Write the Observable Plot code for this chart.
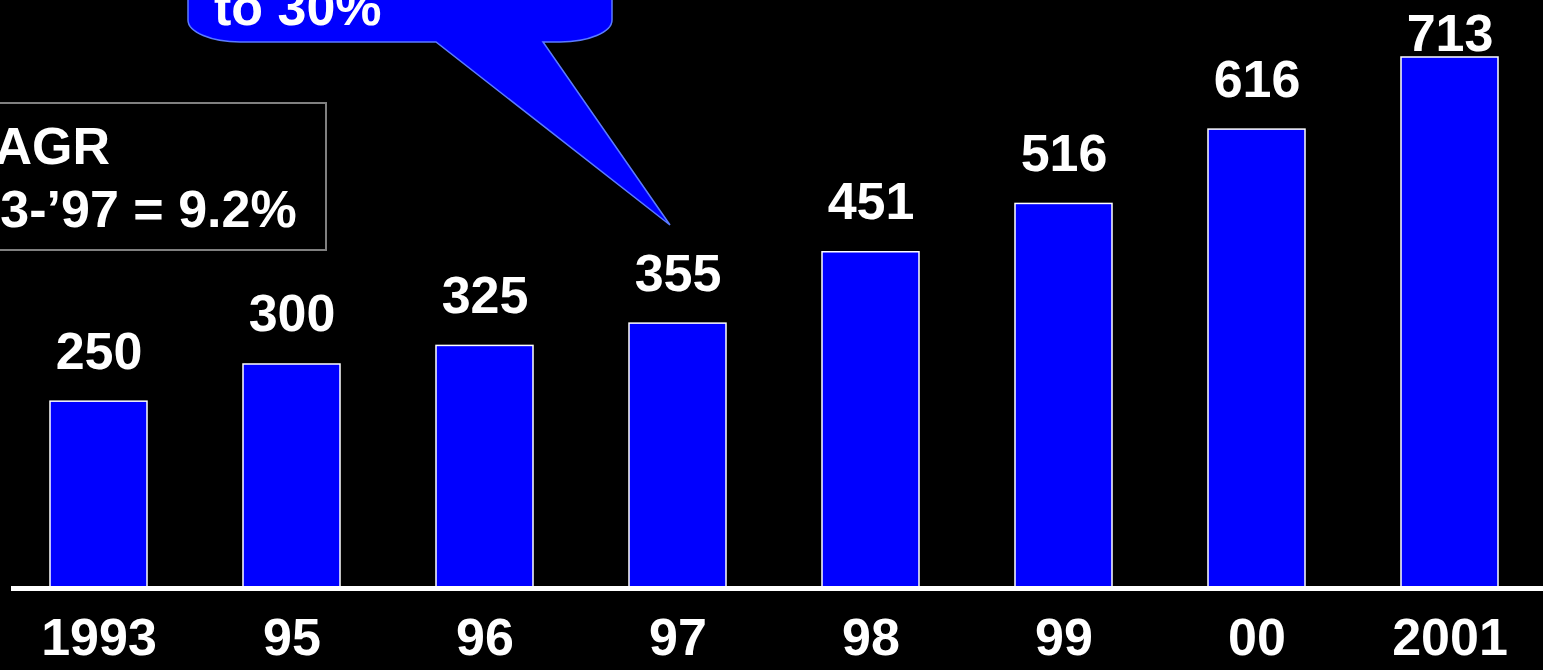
<!DOCTYPE html>
<html>
<head>
<meta charset="utf-8">
<script src="https://cdn.jsdelivr.net/npm/d3@7"></script>
<script src="https://cdn.jsdelivr.net/npm/@observablehq/plot@0.6"></script>
<style>
  html, body { margin: 0; padding: 0; background: #000; overflow: hidden; }
  #chart svg { display: block; }
</style>
</head>
<body>
<div id="chart"></div>
<script>
// ---- data ----
const years = ["1993", "95", "96", "97", "98", "99", "00", "2001"];
const values = [250, 300, 325, 355, 451, 516, 616, 713];
const cagrLines = ["CAGR", "\u201993-\u201997 = 9.2%"];
const calloutLines = ["to 30%"];

const data = years.map((y, i) => ({year: y, value: values[i]}));
const maxVal = d3.max(values);

const FONT = "'Liberation Sans', Arial, Helvetica, sans-serif";
const W = 1543, H = 670;

const plot = Plot.plot({
  width: W,
  height: H,
  marginLeft: 11,
  marginRight: 0,
  marginTop: 0,
  marginBottom: 83,
  style: {background: "#000", color: "#fff", fontFamily: FONT},
  x: {domain: years, range: [49.75, 1497.25], paddingInner: 0.5, paddingOuter: 0, label: null},
  y: {domain: [0, maxVal], range: [587, 57], axis: null},
  marks: [
    Plot.barY(data, {x: "year", y: "value", fill: "#0000ff", stroke: "#ffffff", strokeWidth: 1.5}),
    Plot.ruleY([0], {stroke: "#ffffff", strokeWidth: 5, dy: 1}),
    Plot.text(data.filter(d => d.value !== maxVal), {
      x: "year", y: "value", text: d => String(d.value), lineAnchor: "bottom", dy: -33,
      fill: "#fff", fontSize: 52, fontWeight: "bold"
    }),
    Plot.text(data.filter(d => d.value === maxVal), {
      x: "year", y: "value", text: d => String(d.value), lineAnchor: "bottom", dy: -7,
      fill: "#fff", fontSize: 52, fontWeight: "bold"
    }),
    Plot.axisX({tickSize: 0, tickPadding: 31, fontSize: 52, fontWeight: "bold", fill: "#fff", label: null})
  ]
});

document.getElementById("chart").appendChild(plot);

// ---- annotations ----
const svg = d3.select(plot);
const ann = svg.append("g")
  .attr("font-family", FONT)
  .attr("font-weight", "bold")
  .attr("text-anchor", "start");

// CAGR box (partly cut off at the left edge, as in the original slide)
ann.append("rect")
  .attr("x", -20).attr("y", 103).attr("width", 346).attr("height", 147)
  .attr("fill", "#000").attr("stroke", "#808080").attr("stroke-width", 2);
cagrLines.forEach((t, i) => {
  ann.append("text").attr("x", -43).attr("y", 164 + i * 63)
    .attr("text-anchor", "start")
    .attr("fill", "#fff").attr("font-size", 52).text(t);
});

// Callout bubble with tail pointing to the 1997 bar
const bx0 = 188, bx1 = 612, by1 = 42, rx = 52, ry = 22;
const path = [
  `M${bx0},-60`,
  `L${bx0},${by1 - ry}`,
  `A${rx},${ry} 0 0 0 ${bx0 + rx},${by1}`,
  `L436,${by1}`,
  `L670,225`,
  `L543,${by1}`,
  `L${bx1 - rx},${by1}`,
  `A${rx},${ry} 0 0 0 ${bx1},${by1 - ry}`,
  `L${bx1},-60`,
  "Z"
].join(" ");
ann.append("path").attr("d", path)
  .attr("fill", "#0000ff").attr("stroke", "#5b7bff").attr("stroke-width", 1.5);
calloutLines.forEach((t, i) => {
  ann.append("text").attr("x", 214).attr("y", 25 - (calloutLines.length - 1 - i) * 56)
    .attr("text-anchor", "start")
    .attr("fill", "#fff").attr("font-size", 52).text(t);
});
</script>
</body>
</html>
